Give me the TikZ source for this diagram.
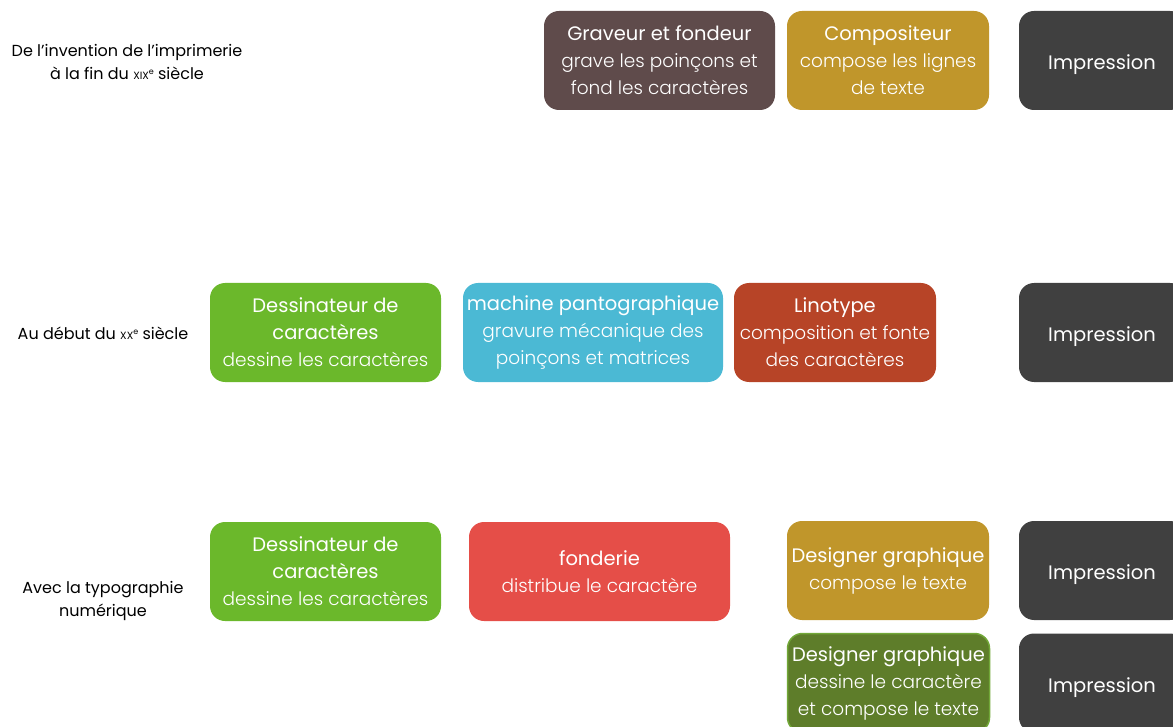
\documentclass[tikz,border=0pt]{standalone}
\usepackage{fontspec}
\setmainfont{Poppins}
\newfontfamily\lightfont{Poppins Light}
\definecolor{brownbox}{HTML}{5F4B4B}
\definecolor{goldbox}{HTML}{C0962B}
\definecolor{darkbox}{HTML}{404040}
\definecolor{greenbox}{HTML}{6BB82B}
\definecolor{bluebox}{HTML}{4BB9D4}
\definecolor{rustbox}{HTML}{B74427}
\definecolor{redbox}{HTML}{E54E48}
\definecolor{olivebox}{HTML}{5E7D2A}
\definecolor{oliveedge}{HTML}{72A838}
\newcommand{\ttl}[1]{{\fontsize{19.5}{27}\selectfont #1}}
\newcommand{\sbt}[1]{{\lightfont\fontsize{18.5}{27}\selectfont #1}}
\newcommand{\smc}[1]{{\fontsize{10.5}{11}\selectfont #1}}
\newcommand{\supe}{\raisebox{5pt}{\fontsize{8}{8}\selectfont e}}
\begin{document}
\begin{tikzpicture}[x=1pt,y=-1pt,
  box/.style={rounded corners=15pt, minimum height=99pt, text=white, align=center, inner sep=0pt, font=\fontsize{19.5}{27}\selectfont},
  lbl/.style={align=center, text=black, inner sep=0pt, font=\fontsize{16}{23}\selectfont},
  imp/.style={box, fill=darkbox, minimum width=166pt, text depth=0pt}]
\useasboundingbox (0,0) rectangle (1173,727);
\clip (0,0) rectangle (1173,727);
% row 1
\node[lbl] (l1) at (127,61.5) {De l'invention de l'imprimerie\\à la fin du \smc{XIX}\supe{} siècle};
\node[box, fill=brownbox, minimum width=231pt] (grav) at (659.5,60.5) {\ttl{Graveur et fondeur}\\\sbt{grave les poinçons et}\\\sbt{fond les caractères}};
\node[box, fill=goldbox, minimum width=202pt] (comp) at (888,60.5) {\ttl{Compositeur}\\\sbt{compose les lignes}\\\sbt{de texte}};
\node[imp] (imp1) at (1102,60.5) {\raisebox{-3.5pt}{\ttl{Impression}}};
% row 2
\node[lbl] (l2) at (103,333) {Au début du \smc{XX}\supe{} siècle};
\node[box, fill=greenbox, minimum width=231pt] (des2) at (325.5,332.5) {\ttl{Dessinateur de}\\\ttl{caractères}\\\sbt{dessine les caractères}};
\node[box, fill=bluebox, minimum width=260pt] (mach) at (593,332.5) {\ttl{machine pantographique}\\\sbt{gravure mécanique des}\\\sbt{poinçons et matrices}};
\node[box, fill=rustbox, minimum width=202pt] (lino) at (835,332.5) {\ttl{Linotype}\\\sbt{composition et fonte}\\\sbt{des caractères}};
\node[imp] (imp2) at (1102,332.5) {\raisebox{-3.5pt}{\ttl{Impression}}};
% row 3
\node[lbl] (l3) at (103,600.5) {Avec la typographie\\numérique};
\node[box, fill=greenbox, minimum width=231pt] (des3) at (325.5,571.5) {\ttl{Dessinateur de}\\\ttl{caractères}\\\sbt{dessine les caractères}};
\node[box, fill=redbox, minimum width=261pt] (fond) at (599.5,571.5) {\ttl{fonderie}\\\sbt{distribue le caractère}};
\node[box, fill=goldbox, minimum width=202pt] (dg1) at (888,570.5) {\ttl{Designer graphique}\\\sbt{compose le texte}};
\node[imp] (imp3) at (1102,570.5) {\raisebox{-3.5pt}{\ttl{Impression}}};
\node[box, fill=olivebox, draw=oliveedge, line width=1.5pt, minimum width=202pt] (dg2) at (888.5,683) {\ttl{Designer graphique}\\\sbt{dessine le caractère}\\\sbt{et compose le texte}};
\node[imp] (imp4) at (1102,683) {\raisebox{-3.5pt}{\ttl{Impression}}};
\end{tikzpicture}
\end{document}
